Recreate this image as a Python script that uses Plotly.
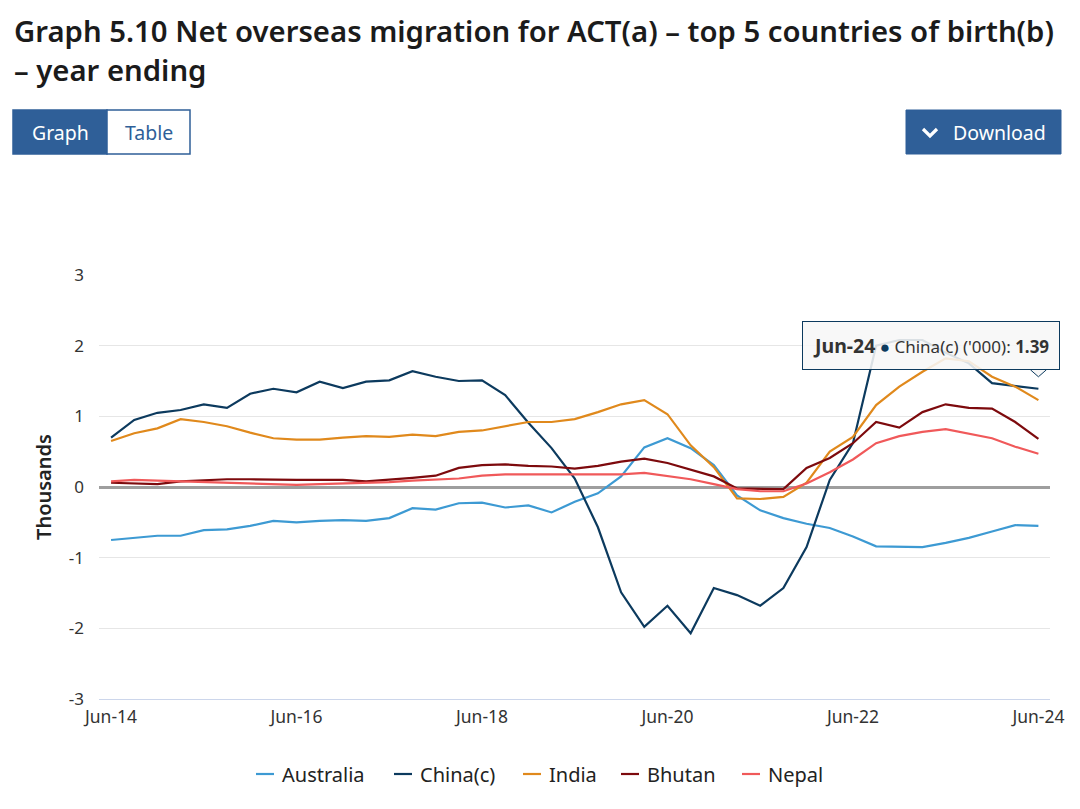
import plotly.graph_objects as go

# ---------------- data (thousands) ----------------
months = ["Mar", "Jun", "Sep", "Dec"]
quarters = []
for yr in range(14, 25):
    for m in months:
        quarters.append(f"{m}-{yr:02d}")
quarters = quarters[1:42]  # Jun-14 .. Jun-24

tick_labels = ["Jun-14", "Jun-16", "Jun-18", "Jun-20", "Jun-22", "Jun-24"]
y_ticks = [-3, -2, -1, 0, 1, 2, 3]
y_tick_text = ["-3", "-2", "-1", "0", "1", "2", "3"]

australia = [-0.75, -0.72, -0.69, -0.69, -0.61, -0.60, -0.55, -0.48, -0.50, -0.48,
             -0.47, -0.48, -0.44, -0.30, -0.32, -0.23, -0.22, -0.29, -0.26, -0.36,
             -0.21, -0.09, 0.15, 0.56, 0.69, 0.55, 0.31, -0.12, -0.33, -0.44,
             -0.52, -0.58, -0.70, -0.84, -0.84, -0.85, -0.79, -0.72, -0.63, -0.54, -0.55]
china = [0.70, 0.95, 1.05, 1.09, 1.17, 1.12, 1.32, 1.39, 1.34, 1.49,
         1.40, 1.49, 1.51, 1.64, 1.56, 1.50, 1.51, 1.30, 0.91, 0.55,
         0.12, -0.57, -1.49, -1.98, -1.68, -2.07, -1.43, -1.53, -1.68, -1.43,
         -0.85, 0.10, 0.62, 2.00, 2.08, 2.08, 1.90, 1.75, 1.47, 1.43, 1.39]
india = [0.65, 0.76, 0.83, 0.96, 0.92, 0.86, 0.77, 0.69, 0.67, 0.67,
         0.70, 0.72, 0.71, 0.74, 0.72, 0.78, 0.80, 0.86, 0.92, 0.92,
         0.96, 1.06, 1.17, 1.23, 1.03, 0.59, 0.28, -0.16, -0.17, -0.14,
         0.06, 0.50, 0.71, 1.16, 1.42, 1.63, 1.82, 1.78, 1.56, 1.42, 1.23]
bhutan = [0.06, 0.05, 0.04, 0.08, 0.10, 0.11, 0.11, 0.10, 0.10, 0.10,
          0.10, 0.08, 0.10, 0.13, 0.16, 0.27, 0.31, 0.32, 0.30, 0.29,
          0.26, 0.30, 0.36, 0.40, 0.34, 0.24, 0.15, -0.02, -0.03, -0.03,
          0.27, 0.41, 0.62, 0.92, 0.84, 1.06, 1.17, 1.12, 1.11, 0.92, 0.68]
nepal = [0.08, 0.10, 0.09, 0.08, 0.07, 0.06, 0.04, 0.03, 0.03, 0.04,
         0.05, 0.05, 0.07, 0.09, 0.10, 0.12, 0.16, 0.18, 0.18, 0.18,
         0.17, 0.17, 0.18, 0.20, 0.16, 0.11, 0.04, -0.03, -0.06, -0.06,
         0.05, 0.21, 0.39, 0.62, 0.72, 0.78, 0.82, 0.76, 0.69, 0.57, 0.47]

series_names = ["Australia", "China(c)", "India", "Bhutan", "Nepal"]
series_values = [australia, china, india, bhutan, nepal]
series_colors = ["#3d9ad3", "#0c3a5e", "#e0891c", "#7d0a0d", "#f0595a"]

FONT = "Noto Sans"
BLUE = "#2f5f98"

# ---------------- page geometry helpers ----------------
W, H = 1080, 809
L, R, T, B = 99, 1050, 275, 699


def pxx(x):
    return (x - L) / (R - L)


def pxy(y):
    return (B - y) / (B - T)


fig = go.Figure()
for name, vals, col in zip(series_names, series_values, series_colors):
    fig.add_trace(go.Scatter(
        x=quarters, y=vals, name=name, mode="lines",
        line=dict(color=col, width=2.2), showlegend=False,
        hoverinfo="skip"))

shapes = []
annotations = []


def txt(text, x, y, size, color, xanchor="left", weight=400, angle=0):
    annotations.append(dict(
        text=text, xref="paper", yref="paper", x=pxx(x), y=pxy(y),
        xanchor=xanchor, yanchor="middle", showarrow=False, textangle=angle,
        font=dict(family=FONT, size=size, color=color, weight=weight)))


# title
txt("Graph 5.10 Net overseas migration for ACT(a) – top 5 countries of birth(b)",
    12, 31, 29.3, "#1b1b1b", weight=600)
txt("– year ending", 12, 70, 29.3, "#1b1b1b", weight=600)

# buttons
shapes.append(dict(type="rect", xref="paper", yref="paper",
                   x0=pxx(13), x1=pxx(107), y0=pxy(154), y1=pxy(110),
                   fillcolor=BLUE, line=dict(color=BLUE, width=1.5), layer="above"))
shapes.append(dict(type="rect", xref="paper", yref="paper",
                   x0=pxx(107), x1=pxx(190), y0=pxy(154), y1=pxy(110),
                   fillcolor="white", line=dict(color=BLUE, width=1.5), layer="above"))
txt("Graph", 60, 132, 19.5, "white", xanchor="center")
txt("Table", 148.5, 132, 19.5, BLUE, xanchor="center")
shapes.append(dict(type="rect", xref="paper", yref="paper",
                   x0=pxx(906), x1=pxx(1061), y0=pxy(154), y1=pxy(110),
                   fillcolor=BLUE, line=dict(color=BLUE, width=1), layer="above"))
shapes.append(dict(type="path", xref="paper", yref="paper",
                   path=f"M {pxx(923)},{pxy(129)} L {pxx(930)},{pxy(136)} L {pxx(937)},{pxy(129)}",
                   line=dict(color="white", width=3.2), layer="above"))
txt("Download", 999.5, 132, 19.5, "white", xanchor="center")

# y-axis title
txt("Thousands", 43, 487, 20, "#222", xanchor="center", weight=600, angle=-90)

# legend (manual, short symbols)
leg_sym = [256, 394, 523, 621, 742]
for name, col, sx in zip(series_names, series_colors, leg_sym):
    shapes.append(dict(type="line", xref="paper", yref="paper",
                       x0=pxx(sx), x1=pxx(sx + 18), y0=pxy(774), y1=pxy(774),
                       line=dict(color=col, width=2.2)))
    txt(name, sx + 24, 774, 20, "#222")

# tooltip for last China point
last_x = quarters[-1]
last_y = china[-1]
shapes.append(dict(type="path", xref="x", yref="y", xsizemode="pixel", ysizemode="pixel",
                   xanchor=last_x, yanchor=last_y,
                   path="M -8,19 L 0,12 L 8,19 Z",
                   fillcolor="rgba(247,247,247,1)", line=dict(width=0), layer="above"))
shapes.append(dict(type="path", xref="x", yref="y", xsizemode="pixel", ysizemode="pixel",
                   xanchor=last_x, yanchor=last_y,
                   path="M -8,19 L 0,12 L 8,19",
                   line=dict(color=series_colors[1], width=1), layer="above"))
annotations.append(dict(
    xref="x", yref="y", x=last_x, y=last_y, xanchor="right", yanchor="bottom",
    xshift=22, yshift=19, showarrow=False, align="left",
    text=(f"<span style='font-size:19.5px'><b>{last_x}</b></span> "
          f"<span style='color:{series_colors[1]}'>●</span> "
          f"{series_names[1]} ('000): <b>{last_y:.2f}</b>"),
    font=dict(family=FONT, size=17, color="#333"),
    bgcolor="rgba(247,247,247,0.88)", bordercolor=series_colors[1], borderwidth=1,
    borderpad=10))

fig.update_layout(
    width=W, height=H,
    margin=dict(l=L, r=W - R, t=T, b=H - B),
    paper_bgcolor="white", plot_bgcolor="white",
    font=dict(family=FONT, color="#333"),
    showlegend=False,
    shapes=shapes, annotations=annotations,
    xaxis=dict(
        type="category", range=[-0.52, 40.5],
        tickmode="array", tickvals=tick_labels, ticktext=tick_labels,
        showgrid=False, zeroline=False, showline=True, linecolor="#ccd6eb", linewidth=1,
        ticks="", tickfont=dict(family=FONT, size=17.5, color="#333"),
        ticklabelstandoff=2),
    yaxis=dict(
        range=[-3, 3], tickmode="array", tickvals=y_ticks, ticktext=y_tick_text,
        showgrid=True, gridcolor="#e6e6e6", gridwidth=1,
        zeroline=True, zerolinecolor="#9e9e9e", zerolinewidth=2.5,
        ticks="", tickfont=dict(family=FONT, size=17, color="#333"),
        ticklabelstandoff=14),
)

fig.write_html("out.html", config={"displayModeBar": False},
               post_script="document.body.style.margin='0';")
